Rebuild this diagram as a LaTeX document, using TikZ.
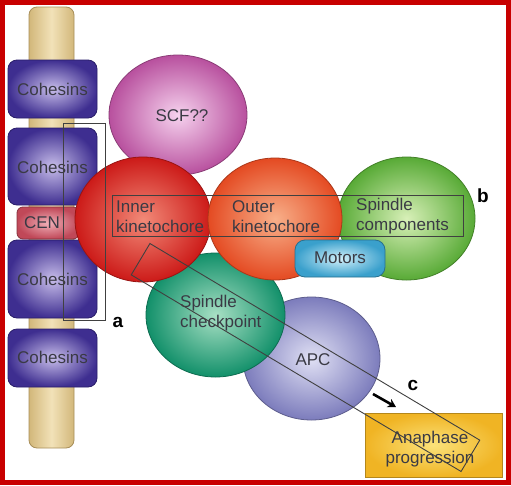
\documentclass[tikz,border=0pt]{standalone}
\usepackage{fontspec}
\setmainfont{Liberation Sans}
\usetikzlibrary{shapes.geometric,arrows.meta}
\definecolor{frame}{HTML}{C80000}
\definecolor{tanA}{HTML}{D2B77A}
\definecolor{tanB}{HTML}{F2E2B8}
\definecolor{tanE}{HTML}{A88F5A}
\definecolor{cohO}{HTML}{3E2E90}
\definecolor{cohI}{HTML}{C8BEEA}
\definecolor{cohE}{HTML}{2A1E6A}
\definecolor{cenO}{HTML}{C04858}
\definecolor{cenI}{HTML}{F0B0B8}
\definecolor{scfO}{HTML}{B8509E}
\definecolor{scfI}{HTML}{F6D2EE}
\definecolor{redO}{HTML}{CC1A18}
\definecolor{redI}{HTML}{F28A78}
\definecolor{orO}{HTML}{E44A22}
\definecolor{orI}{HTML}{F8B08A}
\definecolor{grO}{HTML}{58AA36}
\definecolor{grI}{HTML}{D8F0B8}
\definecolor{chO}{HTML}{12906A}
\definecolor{chI}{HTML}{A8E0C4}
\definecolor{apO}{HTML}{7C7CBC}
\definecolor{apI}{HTML}{E0E0F4}
\definecolor{moO}{HTML}{3AA0CC}
\definecolor{moI}{HTML}{D2F0FA}
\definecolor{anO}{HTML}{F0B424}
\definecolor{anI}{HTML}{FBE27A}
\definecolor{txt}{HTML}{3A3A44}
\begin{document}
\begin{tikzpicture}[x=1pt,y=-1pt,
  txtstyle/.style={text=txt,font=\fontsize{17}{20}\selectfont,inner sep=0pt},
  lbl/.style={font=\fontsize{19}{21}\selectfont\bfseries,inner sep=0pt},
  blob/.style 2 args={ellipse,inner sep=0pt,shade,inner color=#1,outer color=#2,draw=#2!75!black,line width=0.8pt},
  cohbox/.style={rectangle,rounded corners=9pt,inner sep=0pt,minimum width=89pt,shade,inner color=cohI,outer color=cohO,draw=cohE,line width=0.8pt},
  outline/.style={draw=black!75,line width=0.9pt}]
\useasboundingbox (0,0) rectangle (511,485);
\fill[white] (0,0) rectangle (511,485);
% chromosome stalk
\node[rectangle,rounded corners=8pt,minimum width=45pt,minimum height=441pt,inner sep=0pt,shade,left color=tanA,right color=tanA,middle color=tanB,draw=tanE,line width=0.8pt] (stalk) at (51.5,227.5) {};
% cohesins
\node[cohbox,minimum height=58pt] (coh1) at (52.5,89) {};
\node[cohbox,minimum height=77pt] (coh2) at (52.5,166.5) {};
\node[rectangle,rounded corners=6pt,minimum width=62pt,minimum height=32pt,inner sep=0pt,shade,inner color=cenI,outer color=cenO,draw=cenO!70!black,line width=0.8pt] (cen) at (48,223) {};
\node[cohbox,minimum height=78pt] (coh3) at (52.5,279) {};
\node[cohbox,minimum height=58pt] (coh4) at (52.5,358) {};
% blobs
\node[blob={apI}{apO},minimum width=137pt,minimum height=123pt] (apc) at (311.5,358.5) {};
\node[blob={chI}{chO},minimum width=139pt,minimum height=124pt] (chk) at (215.5,315) {};
\node[blob={scfI}{scfO},minimum width=138pt,minimum height=120pt] (scf) at (178,115) {};
\node[blob={grI}{grO},minimum width=137pt,minimum height=123pt] (spc) at (406.5,218.5) {};
\node[blob={redI}{redO},minimum width=136pt,minimum height=125pt] (inner) at (143,219.5) {};
\node[blob={orI}{orO},minimum width=134pt,minimum height=122pt] (outer) at (275,219) {};
\node[rectangle,rounded corners=10pt,minimum width=90pt,minimum height=37pt,inner sep=0pt,shade,inner color=moI,outer color=moO,draw=moO!70!black,line width=0.8pt] (motors) at (340,258.5) {};
\node[rectangle,minimum width=137pt,minimum height=64pt,inner sep=0pt,shade,inner color=anI,outer color=anO,draw=anO!75!black,line width=0.8pt] (ana) at (433.5,445) {};
% texts
\node[txtstyle] (t1) at (52.5,89) {Cohesins};
\node[txtstyle] (t2) at (52.5,167) {Cohesins};
\node[txtstyle] (t3) at (52.5,279) {Cohesins};
\node[txtstyle] (t4) at (52.5,357) {Cohesins};
\node[txtstyle] (tcen) at (42,223) {CEN};
\node[txtstyle] (tscf) at (182,116) {SCF??};
\node[txtstyle,align=left,anchor=west] (tin) at (116,217) {Inner\\kinetochore};
\node[txtstyle,align=left,anchor=west] (tout) at (232,217) {Outer\\kinetochore};
\node[txtstyle,align=left,anchor=west] (tspc) at (356,216) {Spindle\\components};
\node[txtstyle] (tmot) at (340,258) {Motors};
\node[txtstyle,align=left,anchor=west] (tchk) at (180,313) {Spindle\\checkpoint};
\node[txtstyle] (tapc) at (313,360) {APC};
\node[txtstyle,align=center] (tana) at (430,449) {Anaphase\\progression};
% outline boxes
\node[outline,rectangle,inner sep=0pt,minimum width=42pt,minimum height=197pt] (boxa) at (84,221.5) {};
\node[outline,rectangle,inner sep=0pt,minimum width=351pt,minimum height=41pt] (boxb) at (287.5,215.5) {};
\node[outline,rectangle,inner sep=0pt,minimum width=384pt,minimum height=36.5pt,rotate=-30.8] (boxc) at (305.5,357.5) {};
% labels
\node[lbl] (la) at (118,322) {a};
\node[lbl] (lb) at (483,196) {b};
\node[lbl] (lc) at (413,385) {c};
\coordinate (arS) at (373,394);
\coordinate (arE) at (396,407);
\draw[line width=2.6pt,-{Stealth[length=8pt,width=9pt]}] (arS) -- (arE);
% frame
\draw[frame,line width=5pt] (2.5,2.5) rectangle (508.5,482.5);
\end{tikzpicture}
\end{document}
